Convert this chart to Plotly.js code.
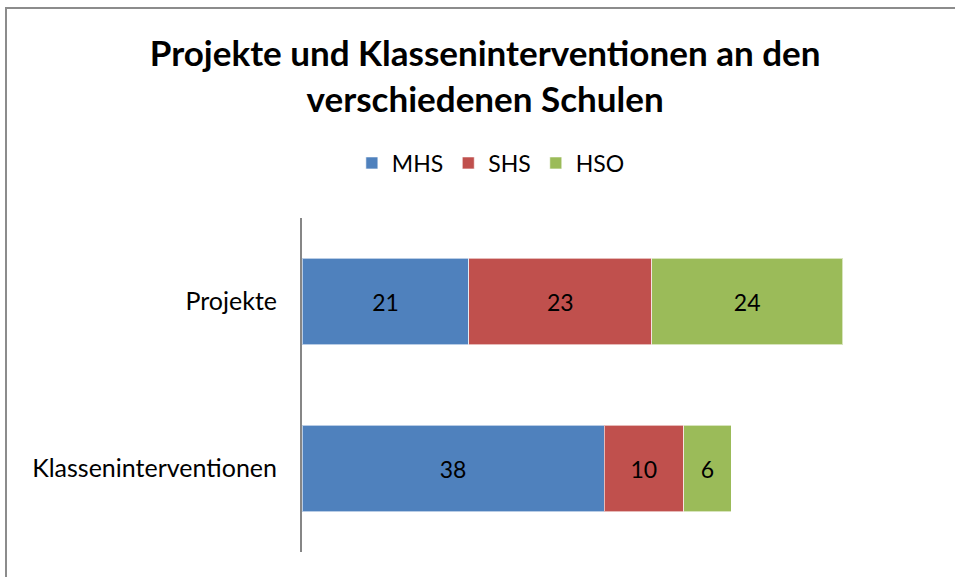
<!DOCTYPE html>
<html>
<head>
<meta charset="utf-8">
<script src="https://cdn.plot.ly/plotly-3.0.1.min.js"></script>
<style>html,body{margin:0;padding:0;background:#fff;}#chart{width:955px;height:577px;}</style>
</head>
<body>
<div id="chart"></div>
<script>
const categories = ['Klasseninterventionen', 'Projekte'];
const seriesNames = ['MHS', 'SHS', 'HSO'];
const mhs = [38, 21];
const shs = [10, 23];
const hso = [6, 24];
const colors = ['#4F81BD', '#C0504D', '#9BBB59'];
const values = [mhs, shs, hso];
const FONT = 'Lato, "Open Sans", sans-serif';

const traces = seriesNames.map((name, i) => ({
  type: 'bar',
  orientation: 'h',
  name: name,
  y: categories,
  x: values[i],
  width: 0.52,
  marker: {color: colors[i], line: {color: 'rgba(255,255,255,0.6)', width: 1}},
  text: values[i].map(String),
  textposition: 'inside',
  insidetextanchor: 'middle',
  textfont: {color: '#000', size: 23, family: FONT},
  hoverinfo: 'x+name'
}));

const L = 302, R = 938, T = 218, B = 552;
const pw = R - L, ph = B - T;
const layout = {
  width: 955, height: 577,
  margin: {l: L, r: 955 - R, t: T, b: 577 - B, pad: 0},
  barmode: 'stack',
  paper_bgcolor: 'rgba(0,0,0,0)',
  plot_bgcolor: 'rgba(0,0,0,0)',
  font: {family: FONT, color: '#000'},
  title: {
    text: '<b>Projekte und Klasseninterventionen an den<br>verschiedenen Schulen</b>',
    font: {size: 35, family: FONT, color: '#000'},
    xref: 'container', x: 0.508, xanchor: 'center',
    yref: 'container', y: 1 - 66/577, yanchor: 'top'
  },
  showlegend: true,
  legend: {
    orientation: 'h',
    xref: 'container', x: 0.514, xanchor: 'center',
    yref: 'container', y: 1 - 163/577, yanchor: 'middle',
    font: {size: 23, family: FONT, color: '#000'},
    itemwidth: 30, traceorder: 'normal'
  },
  xaxis: {range: [0, 80], visible: false, showgrid: false, zeroline: false, fixedrange: true},
  yaxis: {
    showline: true, linecolor: '#868686', linewidth: 2,
    ticks: '', showgrid: false, zeroline: false,
    tickfont: {size: 25, family: FONT, color: '#000'},
    ticklabelstandoff: 18,
    categoryorder: 'array', categoryarray: categories
  },
  shapes: [{
    type: 'rect', layer: 'below',
    xref: 'paper', yref: 'paper',
    x0: (6 - L) / pw, x1: (970 - L) / pw,
    y0: (B - 590) / ph, y1: (B - 8) / ph,
    line: {color: '#8c8c8c', width: 2}, fillcolor: 'rgba(0,0,0,0)'
  }]
};
Plotly.newPlot('chart', traces, layout, {displayModeBar: false, staticPlot: true});
</script>
</body>
</html>
